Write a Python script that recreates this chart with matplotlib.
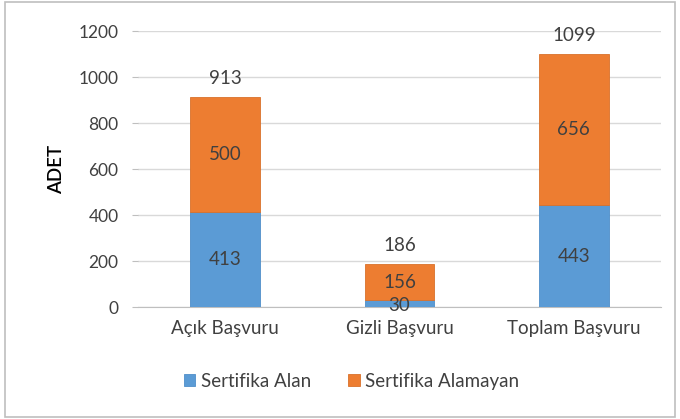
import matplotlib.pyplot as plt
import matplotlib.patches as patches
import numpy as np

# data
categories = ["Açık Başvuru", "Gizli Başvuru", "Toplam Başvuru"]
alan = [413, 30, 443]
alamayan = [500, 156, 656]
totals = [913, 186, 1099]
series_names = ["Sertifika Alan", "Sertifika Alamayan"]
yticks = [0, 200, 400, 600, 800, 1000, 1200]

plt.rcParams['font.family'] = ['Lato', 'DejaVu Sans']

blue = '#5B9BD5'
orange = '#ED7D31'
txt = '#404040'

fig = plt.figure(figsize=(6.8, 4.19), dpi=100)
ax = fig.add_axes([0.203, 0.267, 0.769, 0.659])

# outer frame like the original screenshot
fig.patches.append(patches.Rectangle((0.008, 0.005), 0.985, 0.99, transform=fig.transFigure,
                                     fill=False, edgecolor='#BFBFBF', linewidth=1.2))

x = np.arange(len(categories))
w = 0.4
b1 = ax.bar(x, alan, w, color=blue, edgecolor='#4F8FC9', linewidth=0.6,
            label=series_names[0], zorder=3)
b2 = ax.bar(x, alamayan, w, bottom=alan, color=orange, edgecolor='#D9712B',
            linewidth=0.6, label=series_names[1], zorder=3)

# segment labels
for i in range(len(categories)):
    ax.text(x[i], alan[i] / 2 if alan[i] > 60 else alan[i] / 2 - 8, str(alan[i]),
            ha='center', va='center', fontsize=13.5, color=txt, zorder=4)
    ax.text(x[i], alan[i] + alamayan[i] / 2, str(alamayan[i]),
            ha='center', va='center', fontsize=13.5, color=txt, zorder=4)
    ax.text(x[i], totals[i] + 45, str(totals[i]),
            ha='center', va='bottom', fontsize=13.5, color=txt, zorder=4)

ax.set_xlim(-0.5, 2.5)
ax.set_ylim(0, 1200)
ax.set_yticks(yticks)
ax.set_xticks(x)
ax.set_xticklabels(categories)
ax.tick_params(axis='y', length=4, color='#BFBFBF', labelsize=12.5, labelcolor=txt, pad=10)
ax.tick_params(axis='x', length=0, labelsize=13.5, labelcolor=txt, pad=9)
ax.grid(axis='y', color='#D9D9D9', linewidth=1, zorder=0)
for s in ['top', 'right', 'left']:
    ax.spines[s].set_visible(False)
ax.spines['bottom'].set_color('#BFBFBF')
ax.set_ylabel("ADET", fontsize=13.5, color='black', labelpad=10, fontweight='semibold')

fig.legend(handles=[b1, b2], loc='center', bbox_to_anchor=(0.517, 0.09), ncol=2,
           frameon=False, fontsize=13.5, handlelength=0.6, handleheight=0.6,
           handletextpad=0.3, columnspacing=2.0, labelcolor=txt)

fig.savefig("out.png", dpi=100)
